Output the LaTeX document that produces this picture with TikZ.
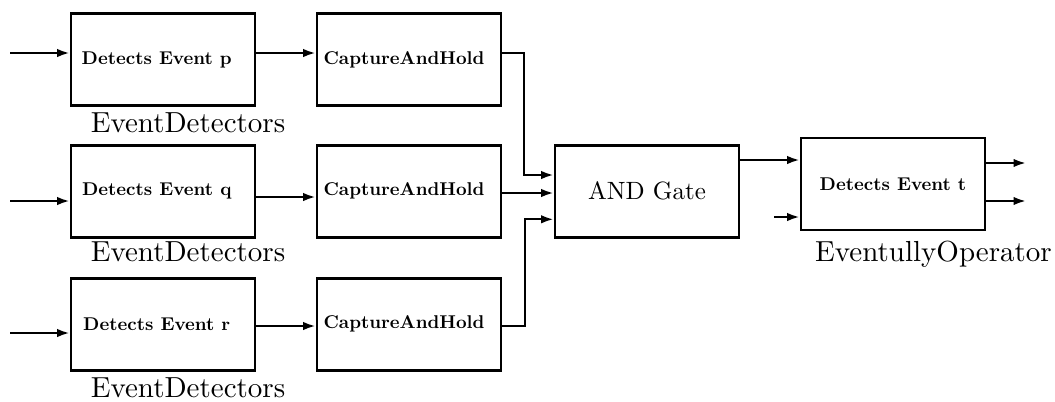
\documentclass[tikz,border=0pt]{standalone}
\usepackage{graphicx}
\usetikzlibrary{arrows.meta}
\newcommand{\bxt}[1]{\scalebox{0.74}{\fontsize{10}{12}\selectfont\bfseries #1}}
\newcommand{\lbt}[1]{\scalebox{1.16}{\fontsize{10}{12}\selectfont #1}}
\begin{document}
\begin{tikzpicture}[x=0.4pt,y=-0.4pt,
  blk/.style={draw,line width=1.1pt,minimum width=73.6pt,minimum height=36.8pt,inner sep=0pt},
  lbl/.style={anchor=base,inner sep=0pt},
  arr/.style={line width=0.9pt,-{Latex[length=5pt,width=3.4pt]}}]
\useasboundingbox (0,0) rectangle (1055,401);
% boxes
\node[blk] (d1) at (163,59.7) {\bxt{Detects Event p}\kern 5pt};
\node[blk] (d2) at (163,191.3) {\raisebox{-1pt}{\bxt{Detects Event q}}\kern 5pt};
\node[blk] (d3) at (163,324.2) {\raisebox{-2.5pt}{\bxt{Detects Event r}}\kern 5pt};
\node[blk] (c1) at (409,59.7) {\raisebox{-1.5pt}{\bxt{CaptureAndHold}}\kern 4pt};
\node[blk] (c2) at (409,191.3) {\raisebox{-1pt}{\bxt{CaptureAndHold}}\kern 4pt};
\node[blk] (c3) at (409,324.2) {\bxt{CaptureAndHold}\kern 4pt};
\node[blk,font=\fontsize{10}{12}\selectfont] (and) at (647,191.2) {AND Gate};
\node[blk] (ev) at (893,183.9) {\raisebox{-1.5pt}{\bxt{Detects Event t}}};
% labels
\node[lbl] (l1) at (188,132) {\lbt{EventDetectors}};
\node[lbl] (l2) at (188,261.7) {\lbt{EventDetectors}};
\node[lbl] (l3) at (188,397) {\lbt{EventDetectors}};
\node[lbl] (l4) at (933.5,261.7) {\lbt{EventullyOperator}};
% coordinates
\coordinate (i1) at (10,53);
\coordinate (i2) at (10,201);
\coordinate (i3) at (10,333);
\coordinate (m1) at (0,53);
\coordinate (m2) at (0,197);
\coordinate (m3) at (0,326);
\coordinate (k2) at (0,193);
\coordinate (j1) at (524,175);
\coordinate (j3) at (525,219.3);
\coordinate (p) at (0,160);
\coordinate (q) at (774,217);
\coordinate (o1) at (1026,163);
\coordinate (o2) at (1026,201);
% connectors
\draw[arr] (i1) -- (i1 -| d1.west);
\draw[arr] (i2) -- (i2 -| d2.west);
\draw[arr] (i3) -- (i3 -| d3.west);
\draw[arr] (d1.east |- m1) -- (c1.west |- m1);
\draw[arr] (d2.east |- m2) -- (c2.west |- m2);
\draw[arr] (d3.east |- m3) -- (c3.west |- m3);
\draw[arr] (c1.east |- m1) -| (j1) -- (and.west |- j1);
\draw[arr] (c2.east |- k2) -- (and.west |- k2);
\draw[arr] (c3.east |- m3) -| (j3) -- (and.west |- j3);
\draw[arr] (and.east |- p) -- (ev.west |- p);
\draw[arr] (q) -- (q -| ev.west);
\draw[arr] (ev.east |- o1) -- (o1);
\draw[arr] (ev.east |- o2) -- (o2);
\end{tikzpicture}
\end{document}
